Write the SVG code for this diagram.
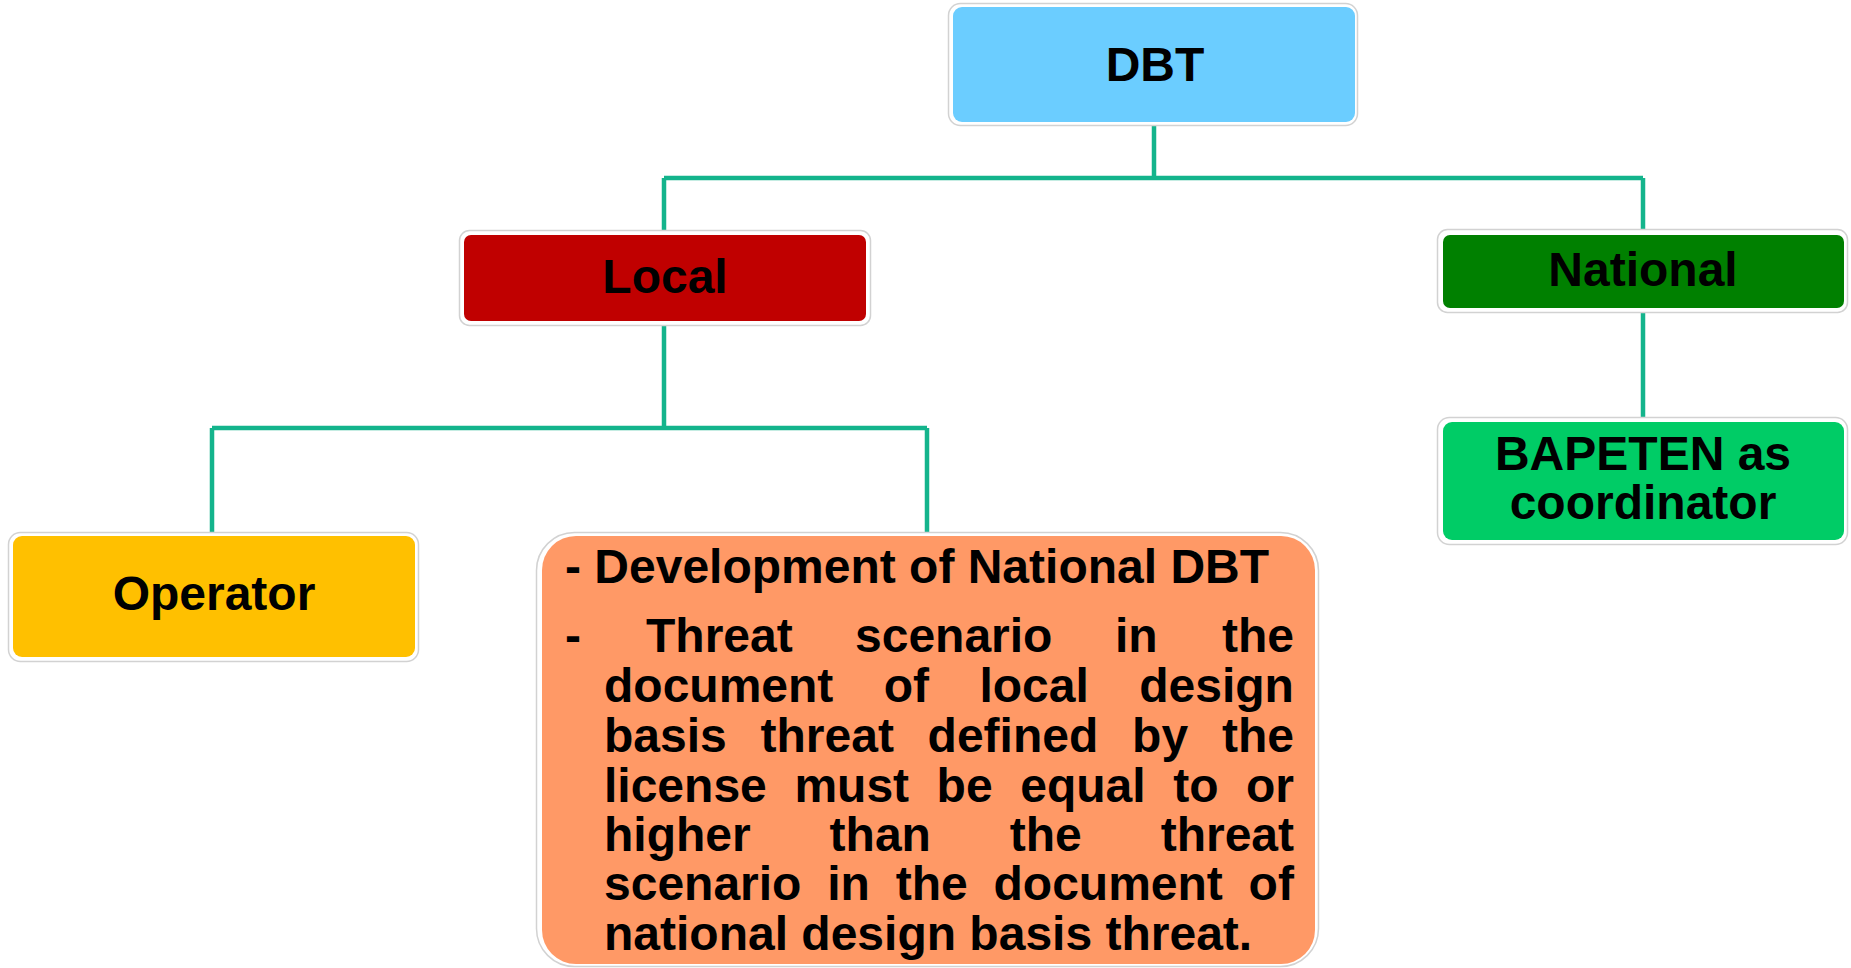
<svg xmlns="http://www.w3.org/2000/svg" width="1851" height="968" viewBox="0 0 1851 968">
<style>
.frame{fill:#ffffff;stroke:#d2d2d2;stroke-width:1.5}
.lbl{font-family:"Liberation Sans",Arial,sans-serif;font-weight:bold;font-size:48px;fill:#000000;text-anchor:middle}
.body{font-family:"Liberation Sans",Arial,sans-serif;font-weight:bold;font-size:48px;fill:#000000}
.conn{stroke:#14B48C;stroke-width:4.5;fill:none}
</style>
<rect width="1851" height="968" fill="#ffffff"/>
<g id="connectors">
<path class="conn" d="M1154,126 V178 M664,178 H1643 M664,178 V230 M1643,178 V229 M1643,313 V417 M664,326 V428 M212,428 H927 M212,428 V532 M927,428 V532"/>
</g>
<g id="dbt">
<rect class="frame" x="948.5" y="3.5" width="409" height="122" rx="12"/>
<rect x="953" y="7" width="402" height="115" rx="9" fill="#6BCDFF"/>
<text class="lbl" x="1155" y="81">DBT</text>
</g>
<g id="local">
<rect class="frame" x="459.5" y="230.5" width="411" height="95" rx="10"/>
<rect x="464" y="235" width="402" height="86" rx="7" fill="#C00000"/>
<text class="lbl" x="665" y="293">Local</text>
</g>
<g id="national">
<rect class="frame" x="1437.5" y="229.5" width="410" height="83" rx="10"/>
<rect x="1443" y="235" width="401" height="73" rx="7" fill="#008000"/>
<text class="lbl" x="1643" y="286">National</text>
</g>
<g id="bapeten">
<rect class="frame" x="1437.5" y="417.5" width="410" height="127" rx="12"/>
<rect x="1443" y="422" width="401" height="118" rx="9" fill="#00CC66"/>
<text class="lbl" x="1643" y="470">BAPETEN as</text>
<text class="lbl" x="1643" y="519">coordinator</text>
</g>
<g id="operator">
<rect class="frame" x="8.5" y="532.5" width="410" height="129" rx="12"/>
<rect x="13" y="536" width="402" height="121" rx="9" fill="#FFC000"/>
<text class="lbl" x="214" y="610">Operator</text>
</g>
<g id="description">
<rect class="frame" x="536.5" y="532.5" width="782" height="434" rx="38"/>
<rect x="542" y="536" width="773" height="428" rx="34" fill="#FF9966"/>
<text class="body" x="565" y="583">- Development of National DBT</text>
<text class="body" y="652"><tspan x="565">-</tspan><tspan x="646">Threat</tspan><tspan x="855">scenario</tspan><tspan x="1115">in</tspan><tspan x="1222">the</tspan></text>
<text class="body" y="702"><tspan x="604">document</tspan><tspan x="883.7">of</tspan><tspan x="979.4">local</tspan><tspan x="1139.2">design</tspan></text>
<text class="body" y="752"><tspan x="604">basis</tspan><tspan x="760.5">threat</tspan><tspan x="927.6">defined</tspan><tspan x="1132.1">by</tspan><tspan x="1221.9">the</tspan></text>
<text class="body" y="802"><tspan x="604">license</tspan><tspan x="794.4">must</tspan><tspan x="936.6">be</tspan><tspan x="1020.2">equal</tspan><tspan x="1173.2">to</tspan><tspan x="1246">or</tspan></text>
<text class="body" y="851"><tspan x="604">higher</tspan><tspan x="829.6">than</tspan><tspan x="1009.8">the</tspan><tspan x="1160.7">threat</tspan></text>
<text class="body" y="900"><tspan x="604">scenario</tspan><tspan x="827.2">in</tspan><tspan x="895.7">the</tspan><tspan x="993.5">document</tspan><tspan x="1248.6">of</tspan></text>
<text class="body" x="604" y="950">national design basis threat.</text>
</g>
</svg>
